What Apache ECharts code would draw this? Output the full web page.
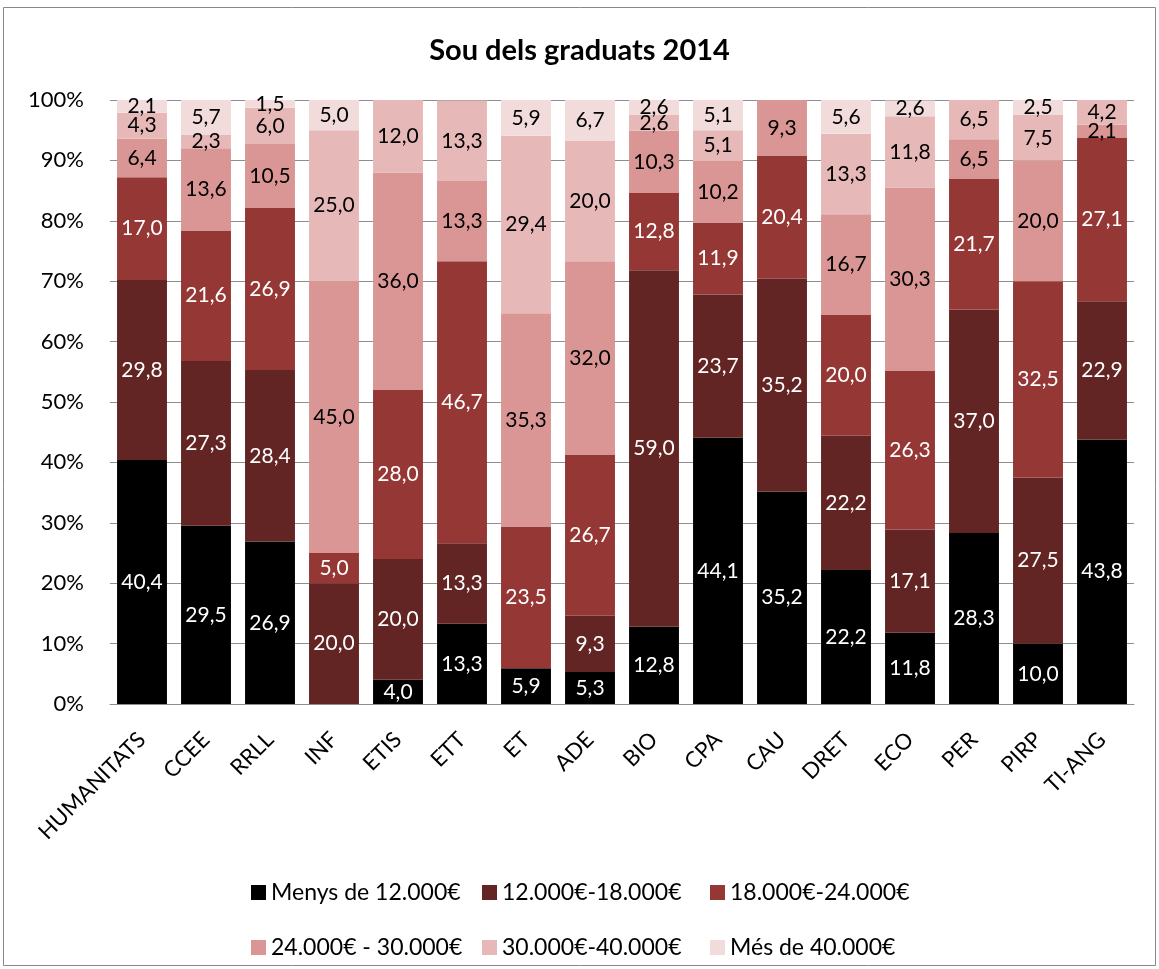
<!DOCTYPE html>
<html>
<head>
<meta charset="utf-8">
<title>Sou dels graduats 2014</title>
<script src="https://cdn.jsdelivr.net/npm/echarts@6/dist/echarts.min.js"></script>
<style>
  html, body { margin: 0; padding: 0; background: #fff; }
  #chart { width: 1159px; height: 969px; }
</style>
</head>
<body>
<div id="chart"></div>
<script>
// estudis
const categories = ['HUMANITATS', 'CCEE', 'RRLL', 'INF', 'ETIS', 'ETT', 'ET', 'ADE', 'BIO', 'CPA', 'CAU', 'DRET', 'ECO', 'PER', 'PIRP', 'TI-ANG']

// percentatges per franja de sou
const menys12 = [40.4, 29.5, 26.9, 0, 4.0, 13.3, 5.9, 5.3, 12.8, 44.1, 35.2, 22.2, 11.8, 28.3, 10.0, 43.8]
const de12a18 = [29.8, 27.3, 28.4, 20.0, 20.0, 13.3, 0, 9.3, 59.0, 23.7, 35.2, 22.2, 17.1, 37.0, 27.5, 22.9]
const de18a24 = [17.0, 21.6, 26.9, 5.0, 28.0, 46.7, 23.5, 26.7, 12.8, 11.9, 20.4, 20.0, 26.3, 21.7, 32.5, 27.1]
const de24a30 = [6.4, 13.6, 10.5, 45.0, 36.0, 13.3, 35.3, 32.0, 10.3, 10.2, 9.3, 16.7, 30.3, 6.5, 20.0, 2.1]
const de30a40 = [4.3, 2.3, 6.0, 25.0, 12.0, 13.3, 29.4, 20.0, 2.6, 5.1, 0, 13.3, 11.8, 6.5, 7.5, 4.2]
const mes40 = [2.1, 5.7, 1.5, 5.0, 0, 0, 5.9, 6.7, 2.6, 5.1, 0, 5.6, 2.6, 0, 2.5, 0]

const seriesNames = ['Menys de 12.000€', '12.000€-18.000€', '18.000€-24.000€', '24.000€ - 30.000€', '30.000€-40.000€', 'Més de 40.000€']
const seriesData = [menys12, de12a18, de18a24, de24a30, de30a40, mes40]
const colors = ['#000000', '#632523', '#953735', '#d99694', '#e6b9b8', '#f2dcdb']
const labelColors = ['#fff', '#fff', '#fff', '#000', '#000', '#000']

const font = 'Lato, "Open Sans", sans-serif'

const chart = echarts.init(document.getElementById('chart'))

// una llegenda per element, en dues files de tres
const legendPos = [[251, 881], [482, 881], [710, 881], [251, 936], [482, 936], [710, 936]]
const legends = seriesNames.map((name, i) => ({
  data: [name],
  left: legendPos[i][0],
  top: legendPos[i][1],
  icon: 'rect',
  itemWidth: 15,
  itemHeight: 15,
  padding: 0,
  selectedMode: false,
  textStyle: { fontFamily: font, fontSize: 23, color: '#000' }
}))

const series = seriesNames.map((name, i) => ({
  name: name,
  type: 'bar',
  stack: 'total',
  barWidth: '78%',
  itemStyle: { color: colors[i] },
  label: {
    show: true,
    position: 'inside',
    color: labelColors[i],
    fontFamily: font,
    fontSize: 21,
    formatter: (p) => p.value ? p.value.toFixed(1).replace('.', ',') : ''
  },
  data: seriesData[i]
}))

chart.setOption({
  backgroundColor: '#fff',
  animation: false,
  color: colors,
  title: {
    text: 'Sou dels graduats 2014',
    left: 'center',
    top: 31,
    textStyle: { fontFamily: font, fontSize: 29, fontWeight: 'bold', color: '#000' }
  },
  graphic: [{
    type: 'rect',
    shape: { x: 3.5, y: 7.5, width: 1152, height: 958 },
    style: { fill: null, stroke: '#888', lineWidth: 1 },
    silent: true
  }],
  legend: legends,
  grid: {
    left: 110,
    right: 25,
    top: 100,
    bottom: 265,
    containLabel: false
  },
  xAxis: {
    type: 'category',
    data: categories,
    axisTick: { show: false },
    axisLine: { show: true, lineStyle: { color: '#8e8e8e', width: 1 } },
    axisLabel: {
      rotate: 45,
      interval: 0,
      margin: 32,
      color: '#000',
      fontFamily: font,
      fontSize: 22
    }
  },
  yAxis: {
    type: 'value',
    min: 0,
    max: 100,
    interval: 10,
    axisLine: { show: false },
    axisTick: { show: false },
    splitLine: { lineStyle: { color: '#8e8e8e', width: 1 } },
    axisLabel: {
      formatter: '{value}%',
      margin: 26,
      color: '#000',
      fontFamily: font,
      fontSize: 22
    }
  },
  series: series
})
</script>
</body>
</html>
